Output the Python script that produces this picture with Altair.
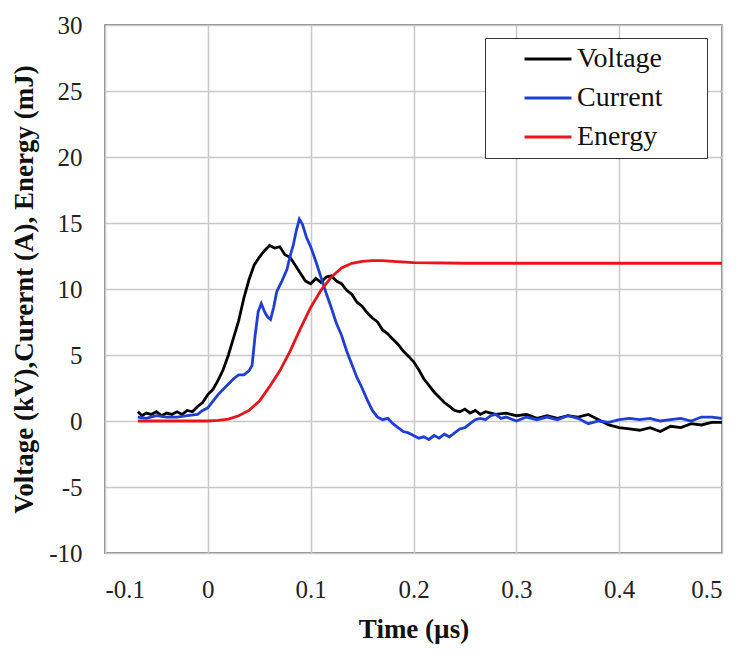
import altair as alt
import pandas as pd

series_names = ["Voltage", "Current", "Energy"]
series_colors = ["#000000", "#1f3fd0", "#e8141b"]

x_ticks = [-0.1, 0, 0.1, 0.2, 0.3, 0.4, 0.5]
y_ticks = [-10, -5, 0, 5, 10, 15, 20, 25, 30]

voltage_t = [-0.068, -0.064, -0.060, -0.055, -0.050, -0.045, -0.040, -0.035, -0.030, -0.025,
             -0.020, -0.015, -0.010, -0.005, 0.000, 0.005, 0.010, 0.015, 0.020, 0.025,
             0.030, 0.035, 0.040, 0.045, 0.050, 0.055, 0.060, 0.065, 0.070, 0.075,
             0.080, 0.085, 0.090, 0.095, 0.100, 0.105, 0.110, 0.115, 0.120, 0.125,
             0.130, 0.135, 0.140, 0.145, 0.150, 0.155, 0.160, 0.165, 0.170, 0.175,
             0.180, 0.185, 0.190, 0.195, 0.200, 0.205, 0.210, 0.215, 0.220, 0.225,
             0.230, 0.235, 0.240, 0.245, 0.250, 0.255, 0.260, 0.265, 0.270, 0.280,
             0.290, 0.300, 0.310, 0.320, 0.330, 0.340, 0.350, 0.360, 0.370, 0.380,
             0.390, 0.400, 0.410, 0.420, 0.430, 0.440, 0.450, 0.460, 0.470, 0.480,
             0.490, 0.500]
voltage_v = [0.7, 0.4, 0.6, 0.5, 0.7, 0.4, 0.6, 0.5, 0.7, 0.5,
             0.8, 0.7, 1.1, 1.4, 2.0, 2.4, 3.1, 3.9, 5.0, 6.3,
             7.6, 9.3, 10.7, 11.8, 12.4, 12.9, 13.3, 13.1, 13.2, 12.6,
             12.4, 11.8, 11.2, 10.6, 10.4, 10.8, 10.5, 10.9, 11.0, 10.6,
             10.4, 9.9, 9.6, 9.0, 8.7, 8.2, 7.8, 7.5, 6.9, 6.6,
             6.2, 5.8, 5.3, 4.9, 4.5, 3.9, 3.2, 2.7, 2.2, 1.8,
             1.4, 1.1, 0.8, 0.7, 0.9, 0.6, 0.8, 0.5, 0.7, 0.5,
             0.6, 0.4, 0.5, 0.2, 0.4, 0.2, 0.4, 0.3, 0.5, 0.1,
             -0.3, -0.5, -0.6, -0.7, -0.5, -0.8, -0.4, -0.5, -0.2, -0.3,
             -0.1, -0.1]

current_t = [-0.068, -0.060, -0.050, -0.040, -0.030, -0.020, -0.010, -0.005, 0.000, 0.005,
             0.010, 0.015, 0.020, 0.025, 0.030, 0.035, 0.040, 0.043, 0.046, 0.049,
             0.052, 0.055, 0.058, 0.061, 0.064, 0.067, 0.072, 0.077, 0.080, 0.083,
             0.086, 0.089, 0.092, 0.096, 0.100, 0.105, 0.110, 0.115, 0.120, 0.125,
             0.130, 0.135, 0.140, 0.145, 0.150, 0.155, 0.160, 0.165, 0.170, 0.175,
             0.180, 0.185, 0.190, 0.195, 0.200, 0.205, 0.210, 0.215, 0.220, 0.225,
             0.230, 0.235, 0.240, 0.245, 0.250, 0.255, 0.260, 0.265, 0.270, 0.275,
             0.280, 0.285, 0.290, 0.300, 0.310, 0.320, 0.330, 0.340, 0.350, 0.360,
             0.370, 0.380, 0.390, 0.400, 0.410, 0.420, 0.430, 0.440, 0.450, 0.460,
             0.470, 0.480, 0.490, 0.500]
current_v = [0.3, 0.2, 0.4, 0.3, 0.3, 0.4, 0.5, 0.8, 1.0, 1.5,
             2.0, 2.4, 2.8, 3.2, 3.5, 3.5, 3.8, 4.2, 6.5, 8.3,
             8.9, 8.3, 7.9, 7.7, 8.6, 9.8, 10.6, 11.5, 12.5, 13.3,
             14.4, 15.3, 14.9, 13.9, 13.2, 12.1, 10.9, 9.7, 8.6, 7.4,
             6.5, 5.3, 4.3, 3.3, 2.5, 1.6, 0.8, 0.3, 0.1, 0.2,
             -0.2, -0.5, -0.8, -0.9, -1.1, -1.3, -1.2, -1.4, -1.1, -1.3,
             -1.0, -1.2, -0.9, -0.6, -0.5, -0.2, 0.1, 0.2, 0.1, 0.4,
             0.5, 0.2, 0.3, 0.0, 0.3, 0.1, 0.3, 0.1, 0.4, 0.2,
             -0.2, 0.0, -0.1, 0.1, 0.2, 0.1, 0.2, 0.0, 0.1, 0.2,
             0.0, 0.3, 0.3, 0.2]

energy_t = [-0.068, 0.000, 0.010, 0.020, 0.030, 0.040, 0.050, 0.060, 0.070, 0.080,
            0.090, 0.100, 0.110, 0.120, 0.130, 0.140, 0.150, 0.160, 0.170, 0.180,
            0.200, 0.250, 0.300, 0.400, 0.500]
energy_v = [0.0, 0.0, 0.05, 0.15, 0.4, 0.8, 1.5, 2.6, 3.8, 5.3,
            7.0, 8.6, 9.9, 10.9, 11.6, 11.95, 12.1, 12.15, 12.15, 12.1,
            12.0, 11.95, 11.95, 11.95, 11.95]

frames = []
for name, ts, vs in [("Voltage", voltage_t, voltage_v),
                     ("Current", current_t, current_v),
                     ("Energy", energy_t, energy_v)]:
    frames.append(pd.DataFrame({"t": ts, "v": vs, "s": name}))
df = pd.concat(frames, ignore_index=True)

FONT = "Liberation Serif"

chart = alt.Chart(df).mark_line(strokeWidth=2.8).encode(
    x=alt.X("t:Q",
            scale=alt.Scale(domain=[-0.1, 0.5], nice=False, zero=False),
            axis=alt.Axis(values=x_ticks, title="Time (µs)", labelExpr="toString(datum.value)",
                          labelPadding=24, titlePadding=14, titleFontSize=27)),
    y=alt.Y("v:Q",
            scale=alt.Scale(domain=[-10, 30], nice=False),
            axis=alt.Axis(values=y_ticks, title="Voltage (kV),Curernt (A),  Energy (mJ)",
                          labelExpr="toString(datum.value)", labelPadding=23, titlePadding=10,
                          titleFontSize=27)),
    color=alt.Color("s:N",
                    scale=alt.Scale(domain=series_names, range=series_colors),
                    legend=alt.Legend(title=None, orient="none", legendX=380, legendY=13,
                                      strokeColor="#333333", fillColor="white", padding=7,
                                      symbolType="M-2,0H2", symbolSize=550, symbolStrokeWidth=3,
                                      symbolOffset=42, labelFont=FONT, labelFontSize=28,
                                      labelColor="#111111", labelOffset=15, rowPadding=11,
                                      labelExpr="datum.label + '\u2003\u00a0\u200a\u200b'")),
    detail="s:N",
).properties(
    width=617, height=528,
    padding={"left": 97, "top": 17, "right": 15, "bottom": 92},
    autosize="none",
).configure_view(
    stroke="#666666", strokeWidth=1.5
).configure_axis(
    grid=True, gridColor="#c8c8c8", gridWidth=1.5,
    domain=False, ticks=False,
    labelFont=FONT, labelFontSize=25, labelColor="#222222",
    titleFont=FONT, titleFontWeight="bold", titleColor="#111111",
)

chart.save("out.html", embed_options={"renderer": "svg", "actions": False})
